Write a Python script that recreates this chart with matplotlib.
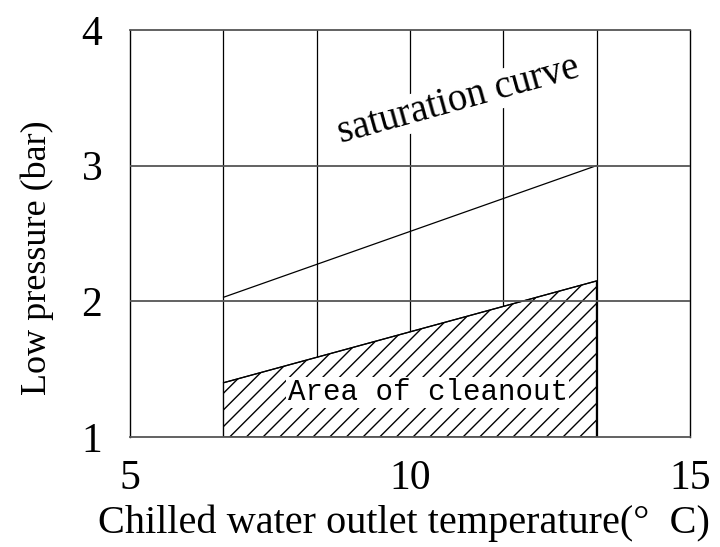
import numpy as np
import matplotlib
matplotlib.use("Agg")
import matplotlib.pyplot as plt

# Temperature (°C) and pressure (bar) data
sat_temp = [6.67, 13.33]
sat_pressure = [2.03, 3.00]

clean_temp = [6.67, 13.33]
clean_upper = [1.40, 2.15]
clean_lower = [1.00, 1.00]

x_ticks = [5, 10, 15]
y_ticks = [1, 2, 3, 4]

serif = ["Liberation Serif", "DejaVu Serif"]

fig = plt.figure(figsize=(7.2, 5.47), dpi=100)
ax = fig.add_axes([0.1806, 0.2011, 0.7777, 0.7441])
ax.set_xlim(5, 15)
ax.set_ylim(1, 4)

# grid: vertical thin black, horizontal grey
for xv in np.linspace(5, 15, 7)[1:-1]:
    ax.axvline(xv, color="black", lw=0.9, zorder=1)
for yv in y_ticks[1:-1]:
    ax.axhline(yv, color="#555555", lw=1.3, zorder=4)

# area of cleanout
ax.fill_between(clean_temp, clean_lower, clean_upper, facecolor="white",
                edgecolor="black", hatch="//", lw=0.9, zorder=2)
ax.plot(clean_temp, clean_upper, color="black", lw=0.9, zorder=3)

# saturation curve
ax.plot(sat_temp, sat_pressure, color="black", lw=0.9, zorder=3)

ax.text(10.87, 3.48, "saturation curve", rotation=15.5, ha="center", va="center",
        fontsize=28, family="Liberation Serif", zorder=3,
        bbox=dict(facecolor="white", edgecolor="none", pad=0.5))
ax.text(10.32, 1.33, "Area of cleanout", ha="center", va="center",
        fontsize=21, family="Liberation Mono", zorder=5,
        bbox=dict(facecolor="white", edgecolor="none", pad=1.0))

ax.set_xticks(x_ticks)
ax.set_yticks(y_ticks)
ax.tick_params(length=0, labelsize=30)
ax.tick_params(axis="x", pad=16)
ax.tick_params(axis="y", pad=20)
for lab in ax.get_xticklabels() + ax.get_yticklabels():
    lab.set_family("Liberation Serif")

for side in ["top", "bottom"]:
    ax.spines[side].set_color("#555555")
    ax.spines[side].set_linewidth(1.3)
for side in ["left", "right"]:
    ax.spines[side].set_color("black")
    ax.spines[side].set_linewidth(1.0)

ax.set_xlabel("Chilled water outlet temperature(°  C)", fontsize=29,
              family=serif)
ax.xaxis.set_label_coords(0.49, -0.165)
ax.set_ylabel("Low pressure (bar)", fontsize=26, family=serif)
ax.yaxis.set_label_coords(-0.136, 0.44)

fig.savefig("out.png", dpi=100)
